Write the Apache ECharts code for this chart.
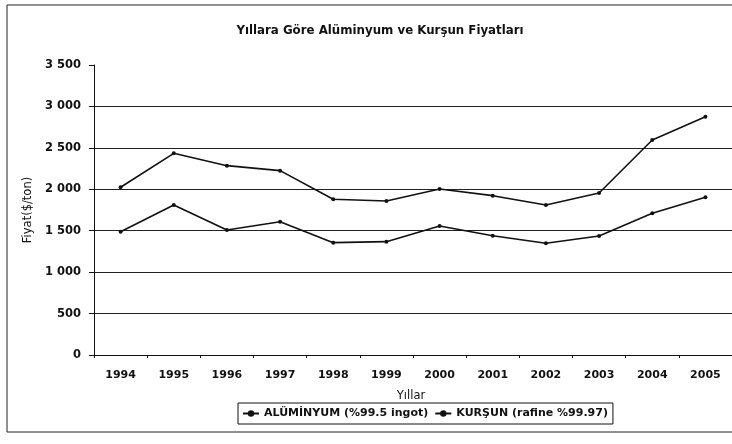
<!DOCTYPE html>
<html>
<head>
<meta charset="utf-8">
<script src="https://cdn.jsdelivr.net/npm/echarts@6/dist/echarts.min.js"></script>
<style>
html,body{margin:0;padding:0;background:#fff;}
#c{width:732px;height:444px;}
</style>
</head>
<body>
<div id="c"></div>
<script>
var years = ['1994','1995','1996','1997','1998','1999','2000','2001','2002','2003','2004','2005'];
var aluminyum = [1488,1810,1509,1609,1356,1368,1557,1440,1348,1436,1710,1903];
var kursun = [2024,2434,2285,2225,1879,1859,2004,1923,1810,1955,2595,2876];
var seriesNames = ['ALÜMİNYUM (%99.5 ingot)','KURŞUN (rafine %99.97)'];
var titleText = 'Yıllara Göre Alüminyum ve Kurşun Fiyatları';
var xName = 'Yıllar';
var yName = 'Fiyat($/ton)';

var font = 'DejaVu Sans, sans-serif';
var chart = echarts.init(document.getElementById('c'));
function mkSeries(name, data){
  return {
    name: name, type: 'line', data: data,
    symbol: 'circle', symbolSize: 4,
    lineStyle: {color: '#111', width: 1.6},
    itemStyle: {color: '#111'},
    animation: false
  };
}
chart.setOption({
  animation: false,
  backgroundColor: '#fff',
  title: {
    text: titleText, left: 375, top: 20, textAlign: 'center',
    textStyle: {fontFamily: font, fontSize: 11.8, fontWeight: 'bold', color: '#111'}
  },
  grid: {left: 94, top: 65, width: 643, height: 290, containLabel: false},
  legend: {
    left: 238, top: 403,
    itemWidth: 16, itemHeight: 8, itemGap: 6,
    padding: [5, 5, 5, 4],
    borderColor: '#111', borderWidth: 1,
    textStyle: {fontFamily: font, fontSize: 11, fontWeight: 'bold', color: '#111'},
    data: seriesNames
  },
  xAxis: {
    type: 'category', data: years, boundaryGap: true,
    name: xName, nameLocation: 'middle', nameGap: 35,
    nameTextStyle: {fontFamily: font, fontSize: 11.5, color: '#111', padding: [0, 0, 0, -4]},
    axisLine: {lineStyle: {color: '#111', width: 1}},
    axisTick: {show: true, length: 3, lineStyle: {color: '#111'}},
    axisLabel: {fontFamily: font, fontSize: 11, fontWeight: 'bold', color: '#111', margin: 15},
    splitLine: {show: false}
  },
  yAxis: {
    type: 'value', min: 0, max: 3500, interval: 500,
    name: yName, nameLocation: 'middle', nameGap: 60, nameRotate: 90,
    nameTextStyle: {fontFamily: font, fontSize: 11.5, color: '#111'},
    axisLine: {show: true, lineStyle: {color: '#111', width: 1}},
    axisTick: {show: true, length: 5, lineStyle: {color: '#111'}},
    axisLabel: {
      fontFamily: font, fontSize: 11.5, fontWeight: 'bold', color: '#111', margin: 13,
      formatter: function(v){ return v >= 1000 ? Math.floor(v/1000) + ' ' + String(v%1000).padStart(3,'0') : String(v); }
    },
    splitLine: {show: true, showMaxLine: false, lineStyle: {color: '#222', width: 1}}
  },
  series: [mkSeries(seriesNames[0], aluminyum), mkSeries(seriesNames[1], kursun)],
  graphic: [{
    type: 'rect', silent: true, z: -1,
    shape: {x: 7, y: 5, width: 740, height: 427},
    style: {fill: null, stroke: '#222', lineWidth: 1}
  }]
});
</script>
</body>
</html>
